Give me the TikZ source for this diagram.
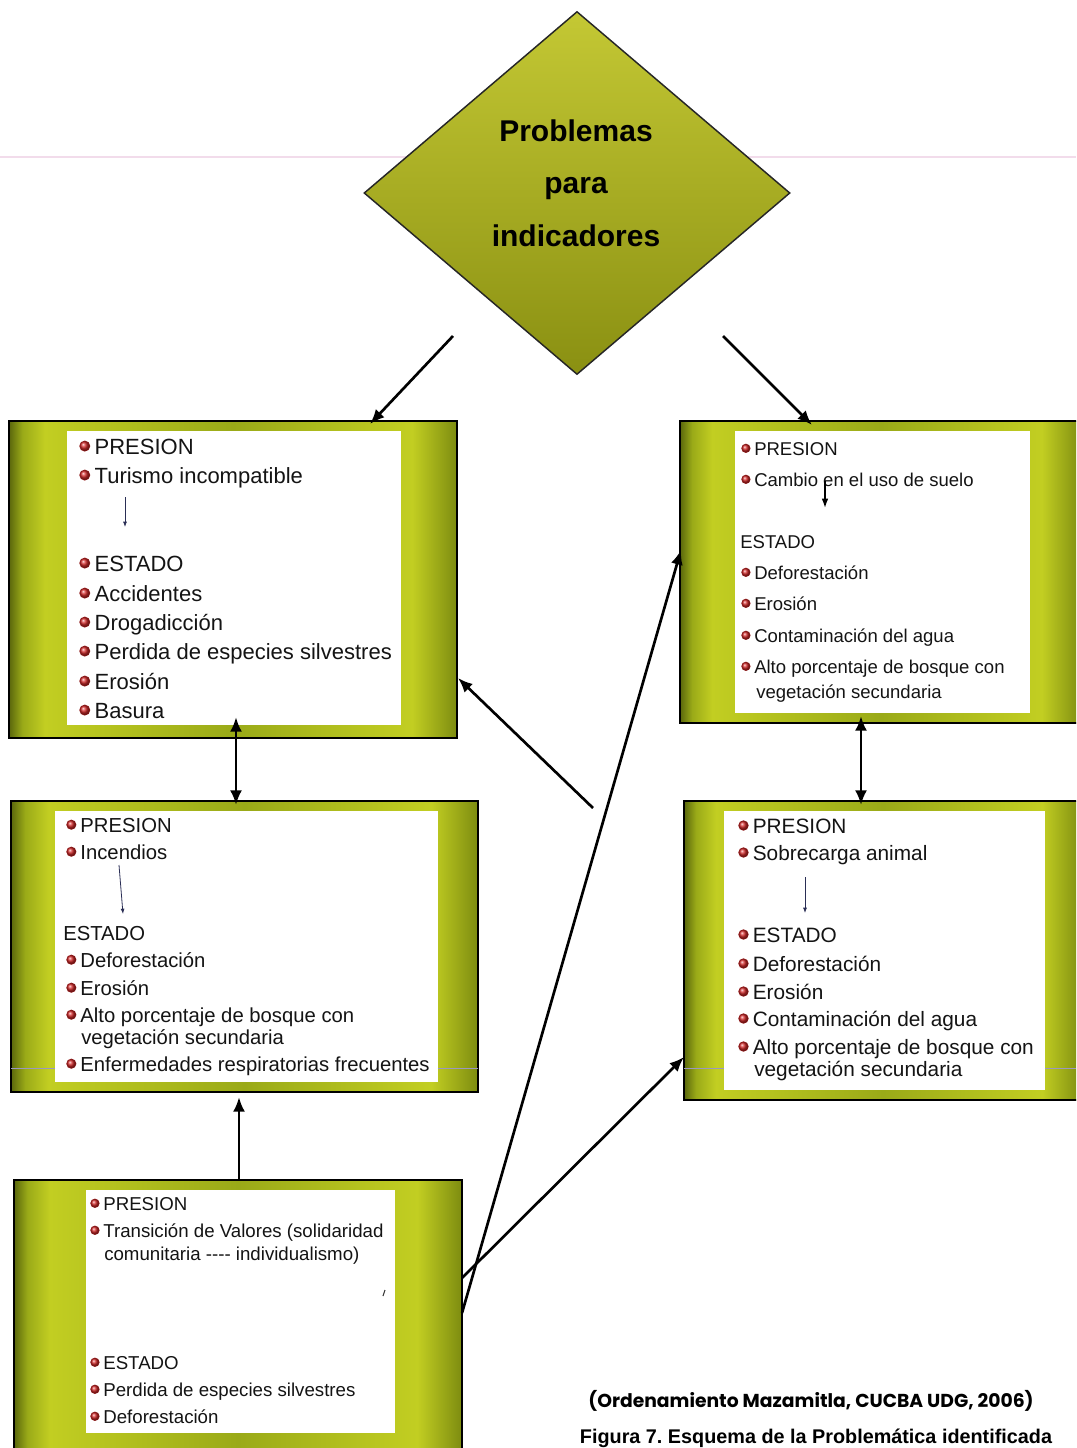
\documentclass[tikz,border=0pt]{standalone}
\usepackage{fontspec}
\usepackage{graphicx}
\setmainfont{Liberation Sans}
\newfontfamily\capfont{Poppins}
\usetikzlibrary{shapes.geometric,arrows.meta,calc}

\definecolor{frdk}{HTML}{5A670C}
\definecolor{frmd}{HTML}{9AAA18}
\definecolor{frlt}{HTML}{C2CE22}
\definecolor{frdkb}{HTML}{7D8C10}
\definecolor{diaT}{HTML}{C4C834}
\definecolor{diaM}{HTML}{ACB022}
\definecolor{diaB}{HTML}{8A9012}
\definecolor{bulred}{HTML}{D42A2A}
\definecolor{pinkline}{HTML}{F2DCEB}
\definecolor{lavline}{HTML}{9A98C0}
\definecolor{navy}{HTML}{2A2E55}

\pgfdeclarehorizontalshading{olivecyl}{100bp}{color(0bp)=(frdk); color(25bp)=(frdk); color(26.5bp)=(frmd); color(29bp)=(frlt); color(50bp)=(frmd); color(70bp)=(frlt); color(75bp)=(frdkb); color(100bp)=(frdkb)}

\newcommand\bul{\tikz[baseline={(0pt,-0.36em)}]{\fill[bulred!70!black] (0pt,0pt) circle (0.25em);\shade[ball color=bulred] (0pt,0pt) circle (0.22em);}\hspace{0.2em}}
\newcommand\frameat[5]{\node[framebox, minimum width={(#4-#2)*0.75pt}, minimum height={(#5-#3)*0.75pt}] (#1) at (#2,#3) {};}
\newcommand\whiteat[5]{\node[whitebox, minimum width={(#4-#2)*0.75pt}, minimum height={(#5-#3)*0.75pt}] (#1) at (#2,#3) {};}

\begin{document}
\frenchspacing
\begin{tikzpicture}[x=0.75pt, y=-0.75pt,
  framebox/.style={anchor=north west, inner sep=0pt, outer sep=0pt, draw=black, line width=1.3pt, shade, shading=olivecyl},
  whitebox/.style={anchor=north west, inner sep=0pt, outer sep=0pt, fill=white, draw=none},
  txa/.style={anchor=base west, inner sep=0pt, text=black!92, font=\fontsize{16.5}{18}\selectfont},
  txb/.style={anchor=base west, inner sep=0pt, text=black!92, font=\fontsize{13.9}{16}\selectfont},
  txc/.style={anchor=base west, inner sep=0pt, text=black!92, font=\fontsize{15.2}{17}\selectfont},
  txd/.style={anchor=base west, inner sep=0pt, text=black!92, font=\fontsize{15.6}{17}\selectfont},
  txe/.style={anchor=base west, inner sep=0pt, text=black!92, font=\fontsize{14}{16}\selectfont},
  diatx/.style={anchor=base, inner sep=0pt, text=black, font=\bfseries\fontsize{22.5}{24}\selectfont},
  conn/.style={line width=2pt, draw=black, -{Latex[length=11pt,width=9pt]}},
  dconn/.style={line width=2pt, draw=black, {Latex[length=11pt,width=9pt]}-{Latex[length=11pt,width=9pt]}},
  thinarr/.style={line width=0.6pt, draw=navy, -{Latex[length=4pt,width=3pt]}},
  medarr/.style={line width=1.1pt, draw=black, -{Latex[length=7pt,width=5pt]}}
]
\useasboundingbox (0,0) rectangle (1076,1448);
\clip (0,0) rectangle (1076,1448);
\fill[white] (0,0) rectangle (1076,1448);

% faint line behind the diamond
\draw[pinkline, line width=1pt] (0,157) -- (1076,157);

% diamond
\node[diamond, draw=black!85, line width=1.1pt, inner sep=0pt,
      minimum width=426*0.75pt, minimum height=363*0.75pt,
      top color=diaT, middle color=diaM, bottom color=diaB] (dia) at (577,193) {};
\node[diatx] (dt1) at (576,142) {Problemas};
\node[diatx] (dt2) at (576,194) {para};
\node[diatx] (dt3) at (576,247) {indicadores};

% frames
\frameat{box1}{9}{421}{457}{738}
\frameat{box2}{680}{421}{1082}{723}
\frameat{box3}{11}{801}{478}{1092}
\frameat{box4}{684}{801}{1082}{1100}
\frameat{box5}{14}{1180}{462}{1452}

\draw[lavline, line width=0.6pt] (11,1068) -- (478,1068);
\draw[lavline, line width=0.6pt] (684,1068) -- (1076,1068);

% white panels
\whiteat{w1}{67}{431}{401}{725}
\whiteat{w2}{735}{431}{1030}{713}
\whiteat{w3}{55}{811}{438}{1082}
\whiteat{w4}{724}{811}{1045}{1090}
\whiteat{w5}{86}{1190}{395}{1433}

% box 1 text
\foreach \yy/\xx/\tx [count=\i] in {
  454/79/{\bul PRESION},
  483/79/{\bul Turismo incompatible},
  571/79/{\bul ESTADO},
  601/79/{\bul Accidentes},
  630/79/{\bul Drogadicción},
  659/79/{\bul Perdida de especies silvestres},
  689/79/{\bul Erosión},
  718/79/{\bul Basura}}
  {\node[txa] (ta\i) at (\xx,\yy) {\tx};}

% box 2 text
\foreach \yy/\xx/\tx [count=\i] in {
  455/741/{\bul PRESION},
  486/741/{\bul Cambio en el uso de suelo},
  548/740/{ESTADO},
  579/741/{\bul Deforestación},
  610/741/{\bul Erosión},
  642/741/{\bul Contaminación del agua},
  673/741/{\bul Alto porcentaje de bosque con},
  698/756/{vegetación secundaria}}
  {\node[txb] (tb\i) at (\xx,\yy) {\tx};}

% box 3 text
\foreach \yy/\xx/\tx [count=\i] in {
  832/66/{\bul PRESION},
  859/66/{\bul Incendios},
  940/63/{ESTADO},
  967/66/{\bul Deforestación},
  995/66/{\bul Erosión},
  1022/66/{\bul Alto porcentaje de bosque con},
  1044/81/{vegetación secundaria},
  1071/66/{\bul Enfermedades respiratorias frecuentes}}
  {\node[txc] (tc\i) at (\xx,\yy) {\tx};}

% box 4 text
\foreach \yy/\xx/\tx [count=\i] in {
  833/738/{\bul PRESION},
  860/738/{\bul Sobrecarga animal},
  942/738/{\bul ESTADO},
  971/738/{\bul Deforestación},
  999/738/{\bul Erosión},
  1026/738/{\bul Contaminación del agua},
  1054/738/{\bul Alto porcentaje de bosque con},
  1076/754/{vegetación secundaria}}
  {\node[txd] (td\i) at (\xx,\yy) {\tx};}

% box 5 text
\foreach \yy/\xx/\tx [count=\i] in {
  1210/90/{\bul PRESION},
  1237/90/{\bul Transición de Valores (solidaridad},
  1260/104/{comunitaria -{}-{}-{}- individualismo)},
  1369/90/{\bul ESTADO},
  1396/90/{\bul Perdida de especies silvestres},
  1423/90/{\bul Deforestación}}
  {\node[txe] (te\i) at (\xx,\yy) {\tx};}

% small inner arrows
\coordinate (ia1s) at (125,497); \coordinate (ia1e) at (125,527);
\draw[thinarr] (ia1s) -- (ia1e);
\coordinate (ia2s) at (825,481); \coordinate (ia2e) at (825,508);
\draw[medarr] (ia2s) -- (ia2e);
\coordinate (ia3s) at (119,865); \coordinate (ia3e) at (123,914);
\draw[thinarr] (ia3s) -- (ia3e);
\coordinate (ia4s) at (805,877); \coordinate (ia4e) at (805,913);
\draw[thinarr] (ia4s) -- (ia4e);
\draw[line width=0.8pt, black!80] (383,1296) -- (385,1290);

% connectors
\coordinate (s1) at (453,336);
\coordinate (s2) at (723,336);
\coordinate (s3) at (593,808);
\draw[conn] (s1) -- ($(box1.north west)+(361,3)$);
\draw[conn] (s2) -- ($(box2.north west)+(132,4)$);
\draw[dconn] ($(box1.south west)+(227,-21)$) -- ($(box3.north west)+(225,4)$);
\draw[dconn] ($(box2.south west)+(181,-7)$) -- ($(box4.north west)+(177,4)$);
\draw[conn] ($(box5.north west)+(225,0)$) -- ($(box3.south west)+(228,5)$);
\draw[conn] ($(box5.north east)+(0,133)$) -- ($(box2.north west)+(1,129)$);
\draw[conn] ($(box5.north east)+(0,98)$) -- ($(box4.north west)+(0,256)$);
\draw[conn] (s3) -- ($(box1.north east)+(1,257)$);

% captions
\node[anchor=base, inner sep=0pt, font=\capfont\bfseries\fontsize{14}{16}\selectfont] (cap1) at (811,1407) {\resizebox{334pt}{!}{(Ordenamiento Mazamitla, CUCBA UDG, 2006)}};
\node[anchor=base, inner sep=0pt, font=\bfseries\fontsize{14.85}{16}\selectfont] (cap2) at (816,1443) {Figura 7. Esquema de la Problemática identificada};
\end{tikzpicture}
\end{document}
